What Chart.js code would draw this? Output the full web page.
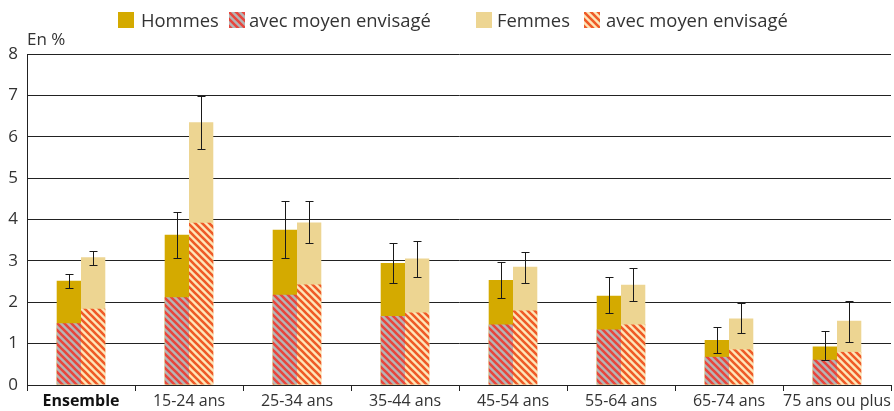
<!DOCTYPE html>
<html lang="fr">
<head>
<meta charset="utf-8">
<script src="https://cdn.jsdelivr.net/npm/chart.js"></script>
<style>
  body { margin: 0; background: #fff; }
  #wrap { position: relative; width: 894px; height: 411px; font-family: "Open Sans", sans-serif; color: #333; }
  #legend { position: absolute; top: 0; left: 0; width: 894px; height: 40px; }
  .sw { position: absolute; top: 12px; width: 16px; height: 16px; }
  .lb { position: absolute; top: 7px; font-size: 18.4px; line-height: 26px; white-space: nowrap; }
</style>
</head>
<body>
<div id="wrap">
  <canvas id="chart" width="894" height="411"></canvas>
  <div id="legend"></div>
</div>
<script>
// Donnees (en %)
const categories = ['Ensemble', '15-24 ans', '25-34 ans', '35-44 ans', '45-54 ans', '55-64 ans', '65-74 ans', '75 ans ou plus'];

const hommes      = [2.52, 3.63, 3.75, 2.95, 2.54, 2.16, 1.09, 0.93];
const hommesMoyen = [1.49, 2.12, 2.18, 1.67, 1.46, 1.34, 0.68, 0.61];
const hommesBas   = [2.34, 3.06, 3.07, 2.47, 2.10, 1.74, 0.78, 0.60];
const hommesHaut  = [2.68, 4.17, 4.44, 3.43, 2.97, 2.61, 1.40, 1.30];

const femmes      = [3.09, 6.35, 3.93, 3.06, 2.86, 2.42, 1.61, 1.55];
const femmesMoyen = [1.84, 3.92, 2.43, 1.75, 1.80, 1.46, 0.86, 0.80];
const femmesBas   = [2.90, 5.71, 3.43, 2.61, 2.46, 2.03, 1.26, 1.04];
const femmesHaut  = [3.25, 6.98, 4.44, 3.48, 3.22, 2.82, 1.98, 2.04];

const yTicks = [0, 1, 2, 3, 4, 5, 6, 7, 8];

const FONT = '"Open Sans", sans-serif';
const TXT = '#333';

// hachures "\" pour les parts avec moyen envisage
function stripeTile(bg, fg) {
    const s = 7;
    const c = document.createElement('canvas');
    c.width = c.height = s;
    const g = c.getContext('2d');
    g.fillStyle = bg;
    g.fillRect(0, 0, s, s);
    g.strokeStyle = fg;
    g.lineWidth = 2.6;
    g.beginPath();
    for (let k = -1; k <= 1; k++) {
        g.moveTo(k * s - 1, -1);
        g.lineTo(k * s + s + 1, s + 1);
    }
    g.stroke();
    return c;
}

const tileH = stripeTile('#b5b5b5', '#e8463d');
const tileF = stripeTile('#fde6b8', '#ef5a27');
const ctx = document.getElementById('chart').getContext('2d');
const patH = ctx.createPattern(tileH, 'repeat');
const patF = ctx.createPattern(tileF, 'repeat');

const colH = '#d4aa00';
const colF = '#edd592';

// legende HTML
const legendItems = [
    { x: 118, fill: colH, text: 'Hommes', tx: 141 },
    { x: 229, img: tileH, text: 'avec moyen envisagé', tx: 249 },
    { x: 476, fill: colF, text: 'Femmes', tx: 497 },
    { x: 584, img: tileF, text: 'avec moyen envisagé', tx: 606 }
];
const legendEl = document.getElementById('legend');
legendItems.forEach(it => {
    const sw = document.createElement('div');
    sw.className = 'sw';
    sw.style.left = it.x + 'px';
    if (it.fill) sw.style.background = it.fill;
    else sw.style.backgroundImage = 'url(' + it.img.toDataURL() + ')';
    legendEl.appendChild(sw);
    const lb = document.createElement('div');
    lb.className = 'lb';
    lb.style.left = it.tx + 'px';
    lb.textContent = it.text;
    legendEl.appendChild(lb);
});

// barres d'erreur (intervalles de confiance)
const errorBars = {
    id: 'errorBars',
    afterDatasetsDraw(chart) {
        const y = chart.scales.y;
        const g = chart.ctx;
        const sets = [
            { idx: 2, lo: hommesBas, hi: hommesHaut },
            { idx: 3, lo: femmesBas, hi: femmesHaut }
        ];
        g.save();
        g.strokeStyle = '#1a1a1a';
        g.lineWidth = 1;
        sets.forEach(s => {
            const meta = chart.getDatasetMeta(s.idx);
            meta.data.forEach((bar, i) => {
                const x = Math.round(bar.x) + 0.5;
                const yl = Math.round(y.getPixelForValue(s.lo[i])) + 0.5;
                const yh = Math.round(y.getPixelForValue(s.hi[i])) + 0.5;
                g.beginPath();
                g.moveTo(x, yl); g.lineTo(x, yh);
                g.moveTo(x - 4, yl); g.lineTo(x + 4, yl);
                g.moveTo(x - 4, yh); g.lineTo(x + 4, yh);
                g.stroke();
            });
        });
        g.restore();
    }
};

// "En %" au-dessus de l'axe
const unitLabel = {
    id: 'unitLabel',
    afterDraw(chart) {
        const g = chart.ctx;
        g.save();
        g.font = '17px ' + FONT;
        g.fillStyle = TXT;
        g.textBaseline = 'bottom';
        g.fillText('En %', chart.chartArea.left, chart.chartArea.top - 5);
        g.restore();
    }
};

new Chart(ctx, {
    type: 'bar',
    data: {
        labels: categories,
        datasets: [
            { label: 'avec moyen envisagé', data: hommesMoyen, stack: 'H', backgroundColor: patH },
            { label: 'avec moyen envisagé', data: femmesMoyen, stack: 'F', backgroundColor: patF },
            { label: 'Hommes', data: hommes, stack: 'H', backgroundColor: colH },
            { label: 'Femmes', data: femmes, stack: 'F', backgroundColor: colF }
        ]
    },
    options: {
        responsive: false,
        animation: false,
        events: [],
        categoryPercentage: 0.45,
        barPercentage: 1.0,
        layout: { padding: { top: 54, right: 3, left: 0, bottom: 0 } },
        plugins: {
            legend: { display: false },
            tooltip: { enabled: false }
        },
        scales: {
            x: {
                stacked: true,
                offset: true,
                border: { display: true, color: '#222', width: 1 },
                grid: { offset: true, drawOnChartArea: false, drawTicks: true, tickLength: 6, color: '#222' },
                ticks: {
                    padding: 1,
                    color: c => c.index === 0 ? '#111' : TXT,
                    font: c => ({ family: FONT, size: 16, weight: c.index === 0 ? 'bold' : 'normal' }),
                    maxRotation: 0,
                    autoSkip: false
                },
                afterFit(scale) {
                    scale.height = 26;
                    scale.paddingLeft = 0;
                    scale.paddingRight = 0;
                }
            },
            y: {
                stacked: false,
                min: yTicks[0],
                max: yTicks[yTicks.length - 1],
                border: { display: true, color: '#222', width: 1 },
                grid: { color: '#222', lineWidth: 1, drawTicks: false },
                afterBuildTicks(scale) {
                    scale.ticks = yTicks.map(v => ({ value: v }));
                },
                ticks: {
                    padding: 9,
                    color: TXT,
                    font: { family: FONT, size: 17 }
                },
                afterFit(scale) {
                    scale.width = 27;
                }
            }
        }
    },
    plugins: [errorBars, unitLabel]
});
</script>
</body>
</html>
